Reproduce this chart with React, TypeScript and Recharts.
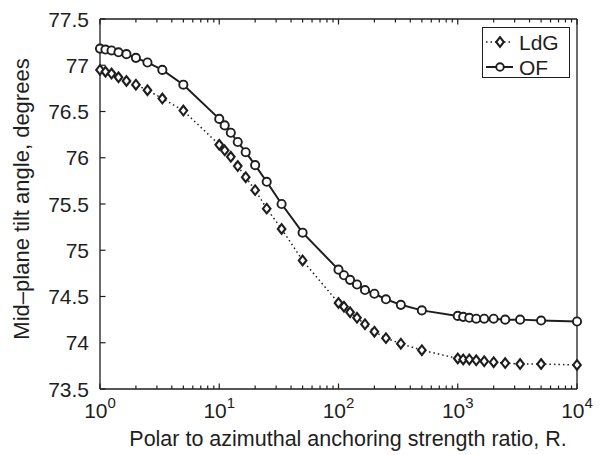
import React from "react";
import { LineChart, Line, XAxis, YAxis, Legend } from "recharts";

// anchoring strength ratio R (log axis)
const ratio = [
  1, 1.111, 1.25, 1.429, 1.667, 2, 2.5, 3.333, 5,
  10, 11.11, 12.5, 14.29, 16.67, 20, 25, 33.33, 50,
  100, 111.1, 125, 142.9, 166.7, 200, 250, 333.3, 500,
  1000, 1111, 1250, 1429, 1667, 2000, 2500, 3333, 5000, 10000,
];
const ldg = [
  76.95, 76.93, 76.91, 76.87, 76.83, 76.79, 76.73, 76.64, 76.51,
  76.14, 76.08, 76.01, 75.91, 75.79, 75.65, 75.45, 75.23, 74.89,
  74.43, 74.39, 74.33, 74.27, 74.2, 74.12, 74.05, 73.99, 73.92,
  73.83, 73.82, 73.82, 73.81, 73.8, 73.79, 73.78, 73.77, 73.77, 73.76,
];
const of = [
  77.18, 77.17, 77.16, 77.14, 77.12, 77.08, 77.03, 76.95, 76.79,
  76.42, 76.35, 76.27, 76.17, 76.06, 75.92, 75.74, 75.5, 75.19,
  74.79, 74.73, 74.68, 74.63, 74.57, 74.53, 74.47, 74.41, 74.35,
  74.29, 74.28, 74.27, 74.26, 74.26, 74.26, 74.25, 74.25, 74.24, 74.23,
];
const xMajor = [1, 10, 100, 1000, 10000];
const xMinor = [
  2, 3, 4, 5, 6, 7, 8, 9,
  20, 30, 40, 50, 60, 70, 80, 90,
  200, 300, 400, 500, 600, 700, 800, 900,
  2000, 3000, 4000, 5000, 6000, 7000, 8000, 9000,
];
const yTicks = [73.5, 74, 74.5, 75, 75.5, 76, 76.5, 77, 77.5];

const data = ratio.map((r, i) => ({ r, ldg: ldg[i], of: of[i] }));
const xTicks = [...xMajor, ...xMinor].sort((a, b) => a - b);

const INK = "#1e1e1e";
const FONT = "'Liberation Sans', Arial, sans-serif";
const axisStyle = { stroke: INK, strokeWidth: 1.3 };

const isMajor = (v: number) => xMajor.includes(v);

const BottomTick = (props: any) => {
  const { x, y, payload } = props;
  const v = payload.value;
  const major = isMajor(v);
  return (
    <g>
      <line x1={x} x2={x} y1={y} y2={y - (major ? 5.5 : 3.5)} stroke={INK} strokeWidth={1.2} />
      {major && (
        <text x={x} y={y + 29} textAnchor="middle" fontSize={21} fill={INK} fontFamily={FONT}>
          10
          <tspan dy={-10} fontSize={15}>{Math.round(Math.log10(v))}</tspan>
        </text>
      )}
    </g>
  );
};

const TopTick = (props: any) => {
  const { x, y, payload } = props;
  const major = isMajor(payload.value);
  return <line x1={x} x2={x} y1={y} y2={y + (major ? 5.5 : 3.5)} stroke={INK} strokeWidth={1.2} />;
};

const LeftTick = (props: any) => {
  const { x, y, payload } = props;
  return (
    <g>
      <line x1={x} x2={x + 5.5} y1={y} y2={y} stroke={INK} strokeWidth={1.2} />
      <text x={x - 11} y={y + 7.5} textAnchor="end" fontSize={21} fill={INK} fontFamily={FONT}>
        {payload.value}
      </text>
    </g>
  );
};

const RightTick = (props: any) => {
  const { x, y } = props;
  return <line x1={x} x2={x - 5.5} y1={y} y2={y} stroke={INK} strokeWidth={1.2} />;
};

const Diamond = ({ cx, cy }: { cx: number; cy: number }) => (
  <path
    d={`M${cx},${cy - 4.8}L${cx + 3.8},${cy}L${cx},${cy + 4.8}L${cx - 3.8},${cy}Z`}
    fill="#fff"
    stroke={INK}
    strokeWidth={2.1}
  />
);

const LegendBox = () => (
  <svg width={88} height={51} style={{ display: "block" }}>
    <rect x={0.5} y={0.5} width={87} height={50} fill="#fff" stroke={INK} strokeWidth={1} />
    <line x1={4} x2={31} y1={15} y2={15} stroke={INK} strokeWidth={1.5} strokeDasharray="1.5 3" />
    <Diamond cx={18} cy={15} />
    <text x={37} y={22.5} fontSize={21} fill={INK} fontFamily={FONT}>LdG</text>
    <line x1={4} x2={31} y1={40} y2={40} stroke={INK} strokeWidth={2} />
    <circle cx={18} cy={40} r={3.8} fill="#fff" stroke={INK} strokeWidth={1.9} />
    <text x={37} y={47.5} fontSize={21} fill={INK} fontFamily={FONT}>OF</text>
  </svg>
);

export default function App() {
  return (
    <div style={{ position: "absolute", left: 0, top: 0, width: 605, height: 455, background: "#fff" }}>
      <LineChart width={605} height={455} data={data} margin={{ top: 18, right: 27, bottom: 65, left: 99 }}>
        <XAxis
          xAxisId="b"
          dataKey="r"
          type="number"
          scale="log"
          domain={[1, 10000]}
          ticks={xTicks}
          interval={0}
          height={1}
          tickSize={0}
          tickMargin={0}
          tickLine={false}
          axisLine={axisStyle}
          tick={(p: any) => <BottomTick {...p} />}
        />
        <XAxis
          xAxisId="t"
          orientation="top"
          dataKey="r"
          type="number"
          scale="log"
          domain={[1, 10000]}
          ticks={xTicks}
          interval={0}
          height={1}
          tickSize={0}
          tickMargin={0}
          tickLine={false}
          axisLine={axisStyle}
          tick={(p: any) => <TopTick {...p} />}
        />
        <YAxis
          yAxisId="l"
          type="number"
          domain={[73.5, 77.5]}
          ticks={yTicks}
          interval={0}
          width={1}
          tickSize={0}
          tickMargin={0}
          tickLine={false}
          axisLine={axisStyle}
          tick={(p: any) => <LeftTick {...p} />}
        />
        <YAxis
          yAxisId="r"
          orientation="right"
          type="number"
          domain={[73.5, 77.5]}
          ticks={yTicks}
          interval={0}
          width={1}
          tickSize={0}
          tickMargin={0}
          tickLine={false}
          axisLine={axisStyle}
          tick={(p: any) => <RightTick {...p} />}
        />
        <Line
          xAxisId="b"
          yAxisId="l"
          type="linear"
          dataKey="ldg"
          stroke={INK}
          strokeWidth={1.5}
          strokeDasharray="1.5 3"
          dot={(p: any) => <Diamond key={`d${p.index}`} cx={p.cx} cy={p.cy} />}
          activeDot={false}
          isAnimationActive={false}
        />
        <Line
          xAxisId="b"
          yAxisId="l"
          type="linear"
          dataKey="of"
          stroke={INK}
          strokeWidth={2}
          dot={{ r: 4.1, fill: "#fff", stroke: INK, strokeWidth: 1.9 }}
          activeDot={false}
          isAnimationActive={false}
        />
        <Legend
          layout="horizontal"
          verticalAlign="middle"
          align="center"
          width={88}
          height={51}
          wrapperStyle={{ left: 482, top: 27, width: 88, height: 51 }}
          content={() => <LegendBox />}
        />
      </LineChart>
      <svg width={605} height={455} style={{ position: "absolute", left: 0, top: 0, pointerEvents: "none" }}>
        <text x={348} y={446} textAnchor="middle" fontSize={21.5} fill={INK} fontFamily={FONT}>
          Polar to azimuthal anchoring strength ratio, R.
        </text>
        <text
          x={29}
          y={199}
          transform="rotate(-90 29 199)"
          textAnchor="middle"
          fontSize={22}
          fill={INK}
          fontFamily={FONT}
        >
          Mid–plane tilt angle, degrees
        </text>
      </svg>
    </div>
  );
}
